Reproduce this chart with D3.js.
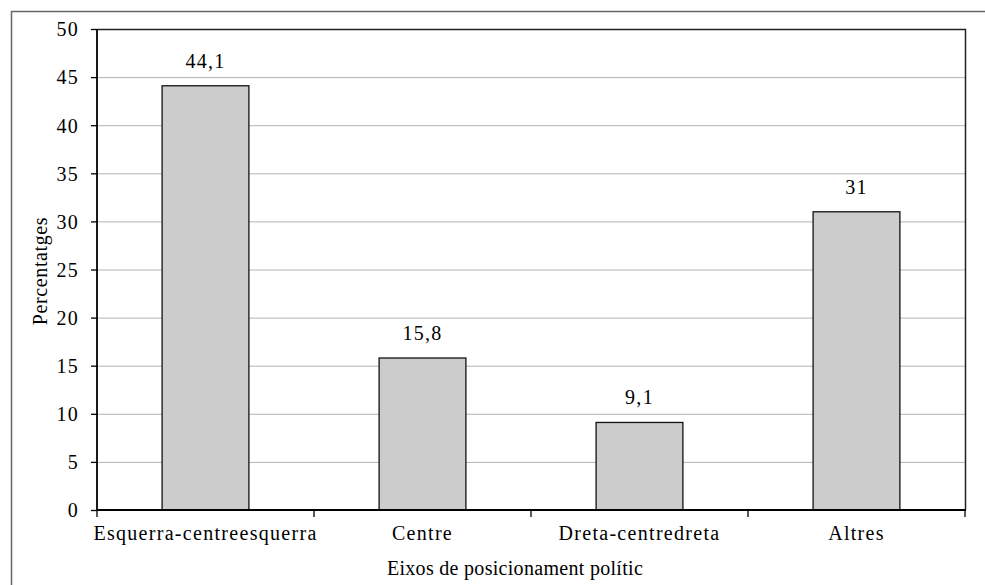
<!DOCTYPE html>
<html><head><meta charset="utf-8">
<script src="https://cdn.jsdelivr.net/npm/d3@7"></script>
<style>body{margin:0;background:#fff}svg{display:block}text{font-family:"Liberation Serif","Times New Roman",serif;fill:#000;letter-spacing:1.3px}</style>
</head><body>
<svg id="c" width="985" height="585"></svg>
<script>
const categories = ["Esquerra-centreesquerra","Centre","Dreta-centredreta","Altres"];
const values = [44.1,15.8,9.1,31];
const valueLabels = ["44,1","15,8","9,1","31"];
const yTicks = [0,5,10,15,20,25,30,35,40,45,50];
const xTitle = "Eixos de posicionament polític";
const yTitle = "Percentatges";

const svg = d3.select("#c");
const L=97,R=965,T=29,B=510;
const FS=20;
// outer frame
svg.append("path").attr("d","M11.5,600V11.5H1000").attr("fill","none").attr("stroke","#666").attr("stroke-width",1.5);

const x = d3.scaleBand().domain(categories).range([L,R]);
const y = d3.scaleLinear().domain([0,50]).range([B,T]);

// gridlines
svg.append("g").selectAll("line").data(yTicks.filter(d=>d>0&&d<50)).join("line")
  .attr("x1",L).attr("x2",R).attr("y1",d=>y(d)+0.5).attr("y2",d=>y(d)+0.5)
  .attr("stroke","#b4b4b4").attr("stroke-width",1);

// plot top/right border
svg.append("path").attr("d",`M${L},${T+0.5}H${R+0.5}V${B}`).attr("fill","none").attr("stroke","#222").attr("stroke-width",1.5);

// bars
const bw = x.bandwidth()*0.4;
svg.append("g").selectAll("rect").data(values).join("rect")
  .attr("x",(d,i)=>x(categories[i])+x.bandwidth()/2-bw/2)
  .attr("y",d=>y(d)).attr("width",bw).attr("height",d=>B-y(d))
  .attr("fill","#cccccc").attr("stroke","#111").attr("stroke-width",1.3);

// value labels
svg.append("g").selectAll("text").data(values).join("text")
  .attr("x",(d,i)=>x(categories[i])+x.bandwidth()/2)
  .attr("y",d=>y(d)-18).attr("text-anchor","middle").attr("font-size",FS)
  .text((d,i)=>valueLabels[i]);

// y axis
const ya = svg.append("g").attr("transform",`translate(${L},0)`)
  .call(d3.axisLeft(y).tickValues(yTicks).tickSize(6).tickPadding(12).tickFormat(d=>d));
ya.attr("font-family",null).attr("font-size",null);
ya.select(".domain").attr("stroke","#000").attr("stroke-width",1.8).attr("d",`M0,${T}V${B}`);
ya.selectAll(".tick line").attr("stroke","#000").attr("stroke-width",1.3);
ya.selectAll(".tick text").attr("font-size",FS).attr("dy","0.34em");

// x axis
const xa = svg.append("g").attr("transform",`translate(0,${B})`);
xa.append("line").attr("x1",L).attr("x2",R+1).attr("y1",0).attr("y2",0).attr("stroke","#000").attr("stroke-width",1.8);
const bounds = categories.map(c=>x(c)).concat([R]);
xa.selectAll(".tk").data(bounds).join("line").attr("class","tk")
  .attr("x1",d=>d).attr("x2",d=>d).attr("y1",0).attr("y2",7).attr("stroke","#000").attr("stroke-width",1.3);
xa.selectAll(".lb").data(categories).join("text").attr("class","lb")
  .attr("x",d=>x(d)+x.bandwidth()/2).attr("y",30).attr("text-anchor","middle").attr("font-size",FS).text(d=>d);

svg.append("text").attr("x",515).attr("y",575).attr("text-anchor","middle").attr("font-size",FS).style("letter-spacing","0.3px").text(xTitle);
svg.append("text").attr("transform",`translate(47,271) rotate(-90)`).attr("text-anchor","middle").attr("font-size",FS).style("letter-spacing","0.6px").text(yTitle);
</script>
</body></html>
